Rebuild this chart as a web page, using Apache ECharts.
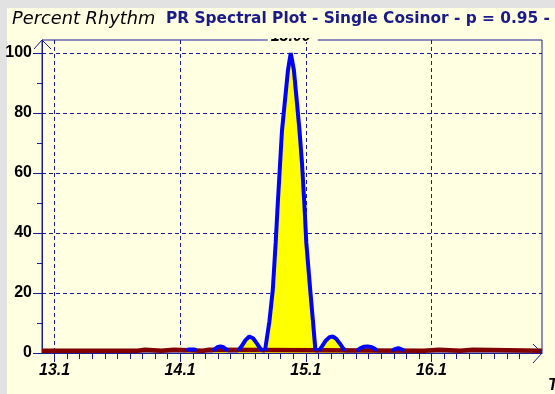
<!DOCTYPE html>
<html>
<head>
<meta charset="utf-8">
<title>Percent Rhythm</title>
<script src="https://cdn.jsdelivr.net/npm/echarts@6.0.0/dist/echarts.min.js"></script>
<style>html,body{margin:0;padding:0;background:#e2e2e2;}</style>
</head>
<body>
<div id="main" style="width:555px;height:394px"></div>
<script>
// background (non significant) level along the whole period range
var noisePeriods = [13.02, 13.78, 13.79, 13.84, 13.85, 13.97, 13.98, 14.07, 14.08, 14.30, 14.31, 14.35, 14.36,
                    16.06, 16.07, 16.18, 16.19, 16.35, 16.36, 16.45, 16.46, 17.0];
var noisePR      = [0.75, 0.75, 1.1, 1.1, 0.75, 0.75, 1.1, 1.1, 0.75, 0.75, 1.1, 1.1, 0.75,
                    0.75, 1.1, 1.1, 0.75, 0.75, 1.1, 1.1, 0.75, 0.75];

// PR spectrum lobes, '-' breaks the line between lobes
var specPeriods = [14.17, 14.19, 14.23, 14.25, 14.30,
                   14.38, 14.40, 14.42, 14.44, 14.46, 14.48, 14.50, 14.54,
                   14.58, 14.61, 14.64, 14.67, 14.70, 14.73, 14.76, 14.775, 14.785,
                   14.795, 14.83, 14.857, 14.88, 14.897, 14.915, 14.93, 14.957, 14.978, 15.0,
                   15.025, 15.045, 15.07, 15.09, 15.108, 15.124, 15.155, 15.176, 15.197, 15.21,
                   15.225, 15.25, 15.28, 15.31, 15.335, 15.36, 15.39, 15.42, 15.432, 15.48,
                   15.528, 15.55, 15.58, 15.61, 15.64, 15.67, 15.687, 15.75,
                   15.807, 15.83, 15.855, 15.88, 15.902];
var specPR      = [0.9, 1.2, 1.2, 0.9, '-',
                   0.75, 1.4, 2.0, 2.2, 2.0, 1.4, 0.75, '-',
                   0.75, 2.3, 4.3, 5.5, 4.9, 3.2, 1.3, 0.75, '-',
                   0.75, 10.5, 21, 36.7, 50, 63, 74, 85.4, 94.3, 100,
                   94.3, 85.4, 74, 63, 50, 36.7, 21, 11, 0.75, '-',
                   0.75, 2.3, 4.2, 5.3, 5.5, 4.8, 3.2, 1.4, 0.75, '-',
                   0.75, 1.5, 2.1, 2.2, 2.0, 1.4, 0.75, '-',
                   0.75, 1.3, 1.6, 1.3, 0.75];

var xTicks = [13.12, 14.12, 15.12, 16.12];
var yTicks = [0, 20, 40, 60, 80, 100];
var yMinorTicks = [10, 30, 50, 70, 90];
var peakPeriod = 15.0;
var peakText = '15.00';

var xMin = 13.02, xMax = 17.0, yMax = 104.33;
var navy = '#1c1c96';
var panel = '#ffffe1';

// minor ticks every 0.1 between the labelled ones
var xMinorTicks = [];
for (var i = 1; i < 39; i++) {
    var v = Math.round((xMin + 0.1 * i) * 100) / 100;
    if (xTicks.indexOf(v) < 0) xMinorTicks.push(v);
}

function zip(a, b) {
    return a.map(function (p, i) { return [p, b[i]]; });
}

var chart = echarts.init(document.getElementById('main'));

var option = {
    animation: false,
    title: [
        {
            text: 'Percent Rhythm', left: 12, top: 10, padding: 0,
            textStyle: {fontFamily: 'DejaVu Sans', fontStyle: 'italic', fontWeight: 'normal', fontSize: 17.8, color: '#000'}
        },
        {
            text: 'PR Spectral Plot - Single Cosinor - p = 0.95 -', left: 166, top: 11, padding: 0,
            textStyle: {fontFamily: 'DejaVu Sans', fontWeight: 'bold', fontSize: 15.4, color: '#1a1a8a'}
        }
    ],
    grid: {
        left: 42, right: 13, top: 40, bottom: 41,
        show: true, borderColor: navy, borderWidth: 1, backgroundColor: 'transparent'
    },
    xAxis: [
        {
            type: 'value', min: xMin, max: xMax, position: 'bottom',
            axisLine: {lineStyle: {color: navy, width: 1}},
            axisTick: {customValues: xTicks, length: 9, lineStyle: {color: navy}},
            axisLabel: {
                customValues: xTicks, margin: 10, color: '#000',
                fontFamily: 'Liberation Sans', fontWeight: 'bold', fontStyle: 'italic', fontSize: 16,
                formatter: function (v) { return v.toFixed(1); }
            },
            splitLine: {show: true, lineStyle: {color: navy, type: [4, 3], width: 1}}
        },
        {
            type: 'value', min: xMin, max: xMax, position: 'bottom',
            axisLine: {show: false},
            axisTick: {customValues: xMinorTicks, length: 6, lineStyle: {color: navy}},
            axisLabel: {show: false},
            splitLine: {show: false}
        }
    ],
    yAxis: [
        {
            type: 'value', min: 0, max: yMax, position: 'left',
            axisLine: {show: true, lineStyle: {color: navy, width: 1}},
            axisTick: {show: true, customValues: yTicks, length: 9, lineStyle: {color: navy}},
            axisLabel: {
                customValues: yTicks, margin: 10, color: '#000',
                fontFamily: 'Liberation Sans', fontWeight: 'bold', fontSize: 16
            },
            splitLine: {show: true, lineStyle: {color: navy, type: [4, 3], width: 1}}
        },
        {
            type: 'value', min: 0, max: yMax, position: 'left',
            axisLine: {show: false},
            axisTick: {show: true, customValues: yMinorTicks, length: 5, lineStyle: {color: navy}},
            axisLabel: {show: false},
            splitLine: {show: false}
        }
    ],
    series: [
        {
            type: 'line', xAxisIndex: 0, yAxisIndex: 0,
            data: zip(noisePeriods, noisePR),
            symbol: 'none', silent: true, clip: false,
            lineStyle: {color: '#800000', width: 4.5}
        },
        {
            type: 'line', xAxisIndex: 0, yAxisIndex: 0,
            data: zip(specPeriods, specPR),
            symbol: 'none', silent: true, connectNulls: false, clip: false,
            lineStyle: {color: '#0000ff', width: 4},
            areaStyle: {color: '#ffff00', opacity: 1}
        }
    ],
    graphic: [
        {type: 'rect', z: -10, shape: {x: 7, y: 8, width: 548, height: 386}, style: {fill: panel}}
    ]
};
chart.setOption(option);

// arrows, peak label and axis name placed from the axis scale
var tl = chart.convertToPixel({gridIndex: 0}, [xMin, yMax]);
var br = chart.convertToPixel({gridIndex: 0}, [xMax, 0]);
var pk = chart.convertToPixel({gridIndex: 0}, [peakPeriod, yMax]);

option.graphic = [
    {type: 'rect', z: -10, shape: {x: 7, y: 8, width: 548, height: 386}, style: {fill: panel}},
    {type: 'polyline', z: 5, shape: {points: [[tl[0] - 8, tl[1] + 9], [tl[0], tl[1]], [tl[0] + 9, tl[1] + 9]]},
        style: {stroke: navy, lineWidth: 1, fill: null}},
    {type: 'polyline', z: 5, shape: {points: [[br[0] - 9, br[1] - 9], [br[0], br[1]], [br[0] - 9, br[1] + 10]]},
        style: {stroke: navy, lineWidth: 1, fill: null}},
    {type: 'rect', z: 5, shape: {x: pk[0] - 23, y: pk[1] - 2, width: 50, height: 4}, style: {fill: panel}},
    {type: 'text', z: 6, x: pk[0], y: pk[1] - 3,
        style: {text: peakText, fill: '#000', font: 'italic bold 16px "Liberation Sans"', align: 'center', verticalAlign: 'middle'}},
    {type: 'rect', z: 7, shape: {x: pk[0] - 30, y: pk[1] - 12, width: 60, height: 10}, style: {fill: panel}},
    {type: 'text', z: 6, x: br[0] + 6, y: br[1] + 25,
        style: {text: 'Tau', fill: '#000', font: 'italic bold 16px "Liberation Sans"', align: 'left', verticalAlign: 'top'}}
];
chart.setOption(option);
</script>
</body>
</html>
